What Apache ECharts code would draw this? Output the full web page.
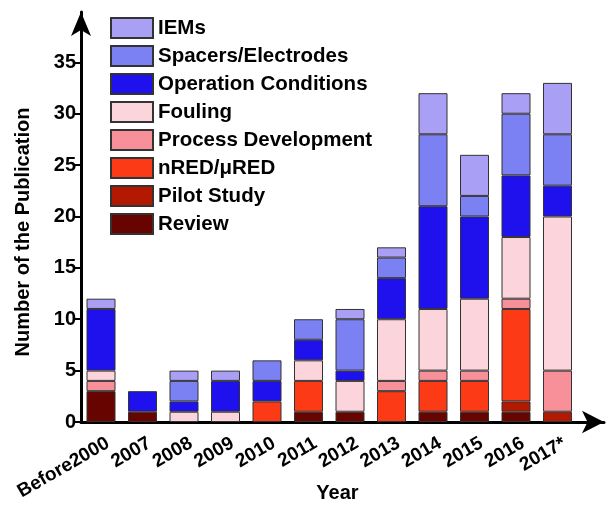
<!DOCTYPE html>
<html>
<head>
<meta charset="utf-8">
<script src="https://cdn.jsdelivr.net/npm/echarts@6/dist/echarts.min.js"></script>
<style>html,body{margin:0;padding:0;background:#fff}#c{width:606px;height:505px}</style>
</head>
<body>
<div id="c"></div>
<script>
const categories = ['Before2000','2007','2008','2009','2010','2011','2012','2013','2014','2015','2016','2017*'];
const review    = [3,1,0,0,0,1,1,0,1,1,1,0];
const pilot     = [0,0,0,0,0,0,0,0,0,0,1,1];
const nred      = [0,0,0,0,2,3,0,3,3,3,9,0];
const processDev= [1,0,0,0,0,0,0,1,1,1,1,4];
const fouling   = [1,0,1,1,0,2,3,6,6,7,6,15];
const operation = [6,2,1,3,2,2,1,4,10,8,6,3];
const spacers   = [0,0,2,0,2,2,5,2,7,2,6,5];
const iems      = [1,0,1,1,0,0,1,1,4,4,2,5];
const yTicks = [0,5,10,15,20,25,30,35];

const seriesDefs = [
  ['Review', review, '#680400'],
  ['Pilot Study', pilot, '#b31800'],
  ['nRED/\u03bcRED', nred, '#fc3a16'],
  ['Process Development', processDev, '#f8909a'],
  ['Fouling', fouling, '#fcd5dc'],
  ['Operation Conditions', operation, '#1f10ee'],
  ['Spacers/Electrodes', spacers, '#7b80f2'],
  ['IEMs', iems, '#a99ff5']
];

const font = 'Liberation Sans, Arial, sans-serif';
const YMAX = 39.9;
const chart = echarts.init(document.getElementById('c'), null, {renderer:'canvas'});

chart.setOption({
  animation: false,
  backgroundColor: '#fff',
  grid: [
    {left: 80.25, right: 27.75, top: 12, bottom: 83, containLabel: false, outerBoundsMode: 'none'},
    {left: 81, right: 2, top: 12, bottom: 83, containLabel: false, outerBoundsMode: 'none'}
  ],
  legend: {
    orient: 'vertical', left: 110, top: 17, padding: 0,
    itemWidth: 42, itemHeight: 20, itemGap: 6, icon: 'rect',
    data: seriesDefs.map(s=>s[0]).reverse(),
    textStyle: {fontFamily: font, fontWeight: 'bold', fontSize: 20.5, color: '#000'}
  },
  xAxis: [
    {
      gridIndex: 0, type: 'category', data: categories, boundaryGap: true,
      axisLine: {show: false},
      axisTick: {show: true, inside: true, alignWithLabel: true, length: 3, lineStyle: {color: '#000', width: 3}},
      axisLabel: {interval: 0, rotate: 30, margin: 24, padding: [0, -8, 0, 0],
        fontFamily: font, fontWeight: 'bold', fontSize: 19, color: '#000'},
      splitLine: {show: false}
    },
    {
      gridIndex: 1, type: 'value', min: 0, max: 1,
      name: 'Year', nameLocation: 'middle', nameGap: 61,
      nameTextStyle: {fontFamily: font, fontWeight: 'bold', fontSize: 20, color: '#000', padding: [0, 10, 0, 0]},
      axisLine: {show: true, lineStyle: {color: '#000', width: 3}, symbol: ['none','arrow'], symbolSize: [17, 22]},
      axisTick: {show: false}, axisLabel: {show: false}, splitLine: {show: false}
    }
  ],
  yAxis: [
    {
      gridIndex: 0, type: 'value', min: 0, max: YMAX,
      axisLine: {show: false}, axisTick: {show: false}, axisLabel: {show: false}, splitLine: {show: false}
    },
    {
      gridIndex: 1, type: 'value', min: 0, max: YMAX,
      name: 'Number of the Publication', nameLocation: 'middle', nameGap: 48,
      nameTextStyle: {fontFamily: font, fontWeight: 'bold', fontSize: 20, color: '#000', padding: [0, 30, 0, 0]},
      axisLine: {show: true, lineStyle: {color: '#000', width: 3}, symbol: ['none','arrow'], symbolSize: [15, 24]},
      axisTick: {show: true, inside: false, length: 6, lineStyle: {color: '#000', width: 2}, customValues: yTicks},
      axisLabel: {customValues: yTicks, margin: 5, fontFamily: font, fontWeight: 'bold', fontSize: 20, color: '#000'},
      splitLine: {show: false}
    }
  ],
  series: seriesDefs.map(([name, vals, color]) => ({
    name, type: 'bar', stack: 'total', barWidth: 29, xAxisIndex: 0, yAxisIndex: 0,
    itemStyle: {color, borderColor: '#333', borderWidth: 1},
    data: vals.map(v => v === 0 ? '-' : v)
  }))
});
</script>
</body>
</html>
